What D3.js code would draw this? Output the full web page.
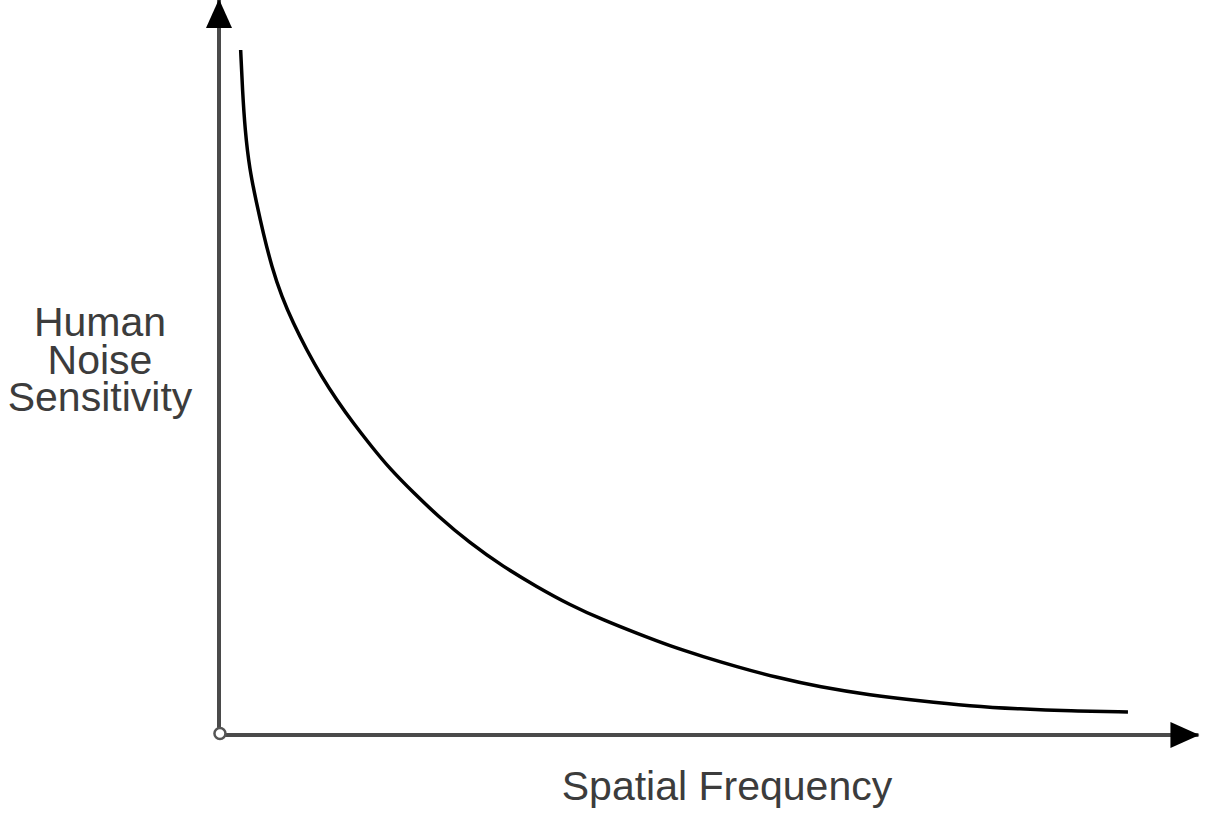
<!DOCTYPE html>
<html>
<head>
<meta charset="utf-8">
<script src="https://cdn.jsdelivr.net/npm/d3@7"></script>
<style>
    body { margin: 0; background: #fff; }
    svg { display: block; }
    text { font-family: "Liberation Sans", Arial, sans-serif; }
</style>
</head>
<body>
<div id="chart"></div>
<script>
// spatial frequency (arbitrary units, 0-100)
const frequency = [2.28, 2.47, 2.74, 3.21, 3.95, 4.66, 5.55, 6.6, 7.82, 9.23, 10.81, 12.39, 14.14, 16.07, 18.0, 20.45, 22.92, 26.42, 29.93, 33.44, 36.95, 40.45, 43.97, 47.47, 50.98, 54.49, 58.71, 63.26, 68.53, 73.79, 79.05, 84.32, 89.58, 95.68];
// human noise sensitivity (arbitrary units, 0-100)
const sensitivity = [97.86, 92.14, 86.43, 80.86, 76.0, 71.67, 66.9, 62.61, 58.81, 55.0, 51.19, 47.86, 44.53, 41.19, 38.0, 34.64, 31.43, 27.39, 24.04, 21.19, 18.57, 16.43, 14.53, 12.71, 11.19, 9.76, 8.21, 6.86, 5.71, 4.86, 4.14, 3.71, 3.43, 3.29];
const yLabelLines = ["Human", "Noise", "Sensitivity"];
const xLabel = "Spatial Frequency";

const width = 1205;
const height = 825;

const svg = d3.select('#chart')
    .append('svg')
    .attr('width', width)
    .attr('height', height);

const x = d3.scaleLinear()
    .domain([0, 100])
    .range([219, 1169]);

const y = d3.scaleLinear()
    .domain([0, 100])
    .range([735, 35]);

// arrowheads
const defs = svg.append('defs');
defs.append('marker')
    .attr('id', 'arrow')
    .attr('markerUnits', 'userSpaceOnUse')
    .attr('markerWidth', 30)
    .attr('markerHeight', 28)
    .attr('viewBox', '0 -14 30 28')
    .attr('refX', 28)
    .attr('refY', 0)
    .attr('orient', 'auto')
    .append('path')
    .attr('d', 'M0,-13L29,0L0,13Z')
    .attr('fill', '#000');

// axes
svg.append('line')
    .attr('x1', x(0)).attr('y1', y(0))
    .attr('x2', x(0)).attr('y2', y(105))
    .attr('stroke', '#4a4a4a')
    .attr('stroke-width', 4)
    .attr('marker-end', 'url(#arrow)');

svg.append('line')
    .attr('x1', x(0)).attr('y1', y(0))
    .attr('x2', x(103.1)).attr('y2', y(0))
    .attr('stroke', '#4a4a4a')
    .attr('stroke-width', 4)
    .attr('marker-end', 'url(#arrow)');

// origin marker
svg.append('circle')
    .attr('cx', x(0.1))
    .attr('cy', y(0.2))
    .attr('r', 5.5)
    .attr('fill', '#fff')
    .attr('stroke', '#555')
    .attr('stroke-width', 2.5);

// curve
const points = frequency.map((f, i) => [f, sensitivity[i]]);
const line = d3.line()
    .x(d => x(d[0]))
    .y(d => y(d[1]))
    .curve(d3.curveBasis);

svg.append('path')
    .datum(points)
    .attr('d', line)
    .attr('fill', 'none')
    .attr('stroke', '#000')
    .attr('stroke-width', 3.5);

// labels
const yLabel = svg.append('text')
    .attr('text-anchor', 'middle')
    .attr('font-size', 41)
    .attr('fill', '#3c3c3c');

yLabel.selectAll('tspan')
    .data(yLabelLines)
    .enter()
    .append('tspan')
    .attr('x', 100)
    .attr('y', (d, i) => 336 + i * 37.5)
    .text(d => d);

svg.append('text')
    .attr('x', 727)
    .attr('y', 800)
    .attr('text-anchor', 'middle')
    .attr('font-size', 41)
    .attr('fill', '#3c3c3c')
    .text(xLabel);
</script>
</body>
</html>
